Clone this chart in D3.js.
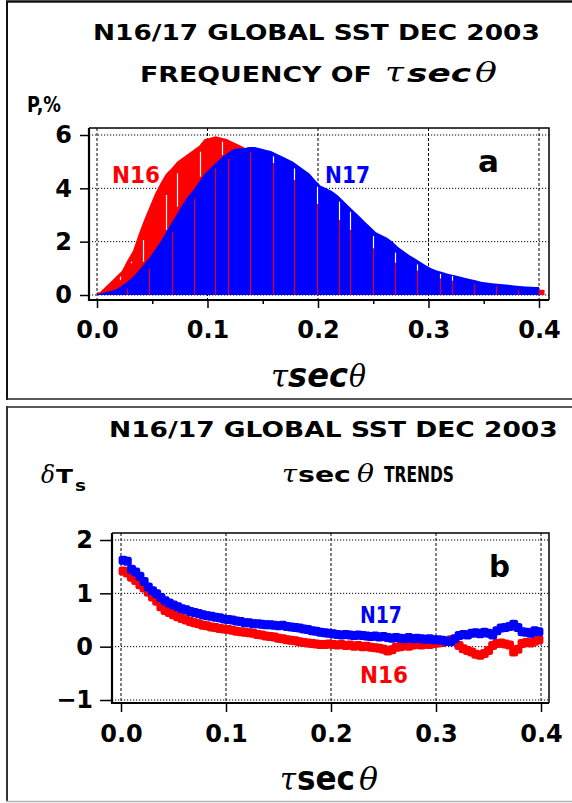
<!DOCTYPE html>
<html>
<head>
<meta charset="utf-8">
<script src="https://cdn.jsdelivr.net/npm/d3@7"></script>
<style>
  body { margin: 0; background: #fff; }
  svg { display: block; }
  text { font-family: "DejaVu Sans", sans-serif; font-weight: bold; }
  .sym { font-family: "DejaVu Serif", serif; font-style: italic; font-weight: normal; }
  .tick text { font-family: "DejaVu Sans", sans-serif; font-weight: bold; font-size: 24px; fill: #000; }
  .tick line { stroke: #000; stroke-width: 1.5; }
</style>
</head>
<body>
<div class="chart"></div>
<script>
// ---- data ----
let xTicks = [0, 0.1, 0.2, 0.3, 0.4];
let xMinorTicks = [0.05, 0.15, 0.25, 0.35];
let histYTicks = [0, 2, 4, 6];
let trendYTicks = [-1, 0, 1, 2];

// frequency histograms, bins of 0.005 starting at 0
let binWidth = 0.005;
let n16Freq = [0.1, 0.3, 0.5, 0.7, 0.9, 1.3, 1.65, 2.25, 2.8, 3.3,
               3.8, 4.2, 4.55, 4.75, 5.0, 5.15, 5.3, 5.45, 5.6, 5.85,
               5.9, 5.95, 5.9, 5.85, 5.75, 5.65, 5.55, 5.4, 5.3, 5.2,
               5.1, 4.95, 4.8, 4.65, 4.5, 4.3, 4.1, 3.9, 3.7, 3.45,
               3.3, 3.15, 3.0, 2.85, 2.7, 2.45, 2.3, 2.1, 1.95, 1.8,
               1.7, 1.55, 1.4, 1.25, 1.15, 1.05, 1.0, 0.92, 0.85, 0.75,
               0.7, 0.64, 0.6, 0.56, 0.53, 0.5, 0.46, 0.42, 0.4, 0.38,
               0.36, 0.35, 0.33, 0.3, 0.26, 0.22, 0.2, 0.2, 0.2, 0.2, 0.2];
let n17Freq = [0.05, 0.1, 0.15, 0.22, 0.35, 0.5, 0.68, 0.9, 1.15, 1.4,
               1.7, 2.0, 2.35, 2.7, 3.05, 3.4, 3.7, 3.95, 4.25, 4.55,
               4.75, 4.95, 5.15, 5.3, 5.45, 5.5, 5.5, 5.55, 5.55, 5.5,
               5.45, 5.4, 5.3, 5.2, 5.1, 5.0, 4.85, 4.7, 4.55, 4.3,
               4.1, 4.0, 3.9, 3.75, 3.55, 3.35, 3.15, 2.95, 2.75, 2.55,
               2.35, 2.25, 2.15, 2.0, 1.8, 1.65, 1.5, 1.38, 1.25, 1.12,
               1.0, 0.92, 0.86, 0.8, 0.75, 0.7, 0.65, 0.6, 0.55, 0.5,
               0.47, 0.44, 0.42, 0.4, 0.38, 0.36, 0.34, 0.32, 0.31, 0.3];

// thin columns where one histogram left a gap in the original raster
let n17GapX     = [0.027, 0.047, 0.0675, 0.0875, 0.107, 0.119, 0.1385, 0.159, 0.178, 0.199,
                   0.219, 0.229, 0.25, 0.27, 0.29, 0.31, 0.321, 0.341, 0.361, 0.381];
let n17GapRed   = [0.25, 1.0, 2.37, 3.62, 4.75, 5.12, 5.37, 4.94, 4.31, 3.41,
                   2.81, 2.44, 1.75, 1.21, 0.91, 0.62, 0.54, 0.41, 0.34, 0.19];
let n17GapWhite = [0.25, 1.0, 2.37, 3.62, 4.75, 5.12, 5.37, 5.2, 4.75, 4.06,
                   3.5, 3.12, 2.21, 1.59, 1.15, 0.79, 0.71, 0.41, 0.34, 0.19];
let n16GapX  = [0.021, 0.031, 0.042, 0.062, 0.072, 0.093, 0.113];
let n16GapLo = [0.56, 1.19, 1.25, 2.44, 3.31, 4.44, 5.25];
let n16GapHi = [0.69, 1.25, 2.06, 3.75, 4.56, 5.37, 5.75];

// trends, sampled every 0.004 starting at 0.002
let trendX = d3.range(100).map(i => 0.002 + i * 0.004);
let n16Trend = [1.42, 1.38, 1.30, 1.24, 1.16, 1.10, 1.02, 0.93, 0.85, 0.75,
                0.68, 0.64, 0.60, 0.56, 0.53, 0.50, 0.47, 0.45, 0.43, 0.40,
                0.39, 0.37, 0.36, 0.34, 0.33, 0.32, 0.31, 0.29, 0.28, 0.27,
                0.26, 0.25, 0.23, 0.22, 0.20, 0.19, 0.18, 0.16, 0.15, 0.13,
                0.12, 0.11, 0.09, 0.08, 0.07, 0.06, 0.05, 0.04, 0.04, 0.05,
                0.04, 0.03, 0.04, 0.02, 0.03, 0.01, 0.02, 0.00, 0.01, -0.01,
                -0.02, -0.03, -0.05, -0.08, -0.06, -0.01, 0.00, 0.02, 0.01, 0.03,
                0.04, 0.03, 0.05, 0.04, 0.06, 0.07, 0.08, 0.10, 0.13, 0.12,
                0.02, -0.04, -0.07, -0.10, -0.14, -0.16, -0.13, -0.07, 0.02, 0.06,
                0.07, 0.05, 0.03, -0.10, -0.05, 0.06, 0.08, 0.07, 0.10, 0.13];
let n17Trend = [1.62, 1.60, 1.45, 1.40, 1.32, 1.22, 1.12, 1.05, 0.99, 0.92,
                0.86, 0.82, 0.78, 0.75, 0.71, 0.69, 0.66, 0.64, 0.62, 0.60,
                0.58, 0.57, 0.55, 0.54, 0.52, 0.51, 0.50, 0.48, 0.47, 0.45,
                0.45, 0.43, 0.43, 0.42, 0.41, 0.41, 0.40, 0.39, 0.40, 0.38,
                0.37, 0.36, 0.35, 0.33, 0.32, 0.30, 0.29, 0.27, 0.26, 0.25,
                0.24, 0.23, 0.22, 0.23, 0.22, 0.21, 0.22, 0.21, 0.20, 0.19,
                0.20, 0.18, 0.19, 0.17, 0.16, 0.17, 0.16, 0.15, 0.17, 0.15,
                0.16, 0.15, 0.14, 0.15, 0.13, 0.13, 0.12, 0.10, 0.09, 0.15,
                0.21, 0.23, 0.22, 0.25, 0.26, 0.24, 0.27, 0.25, 0.22, 0.30,
                0.35, 0.36, 0.38, 0.42, 0.36, 0.28, 0.27, 0.25, 0.30, 0.28];

let RED = "#ff0000", BLUE = "#0000ff";

let svg = d3.select(".chart").append("svg")
    .attr("width", 572).attr("height", 803);

// panel borders
let border = (x1, y1, x2, y2, c, w) => svg.append("line")
    .attr("x1", x1).attr("y1", y1).attr("x2", x2).attr("y2", y2)
    .attr("stroke", c).attr("stroke-width", w);
border(6, 1.5, 572, 1.5, "#111", 2.5);
border(7, 1, 7, 400, "#111", 2);
border(6, 399, 572, 399, "#222", 1.5);
border(6, 407, 572, 407, "#222", 1.5);
border(7, 406, 7, 802, "#333", 2);
border(6, 801.5, 572, 801.5, "#b4b4b4", 1.5);

// text stretched horizontally to the width it has in the picture
let txt = (x, y, s, size, opts = {}) => {
    let t = svg.append("text").style("font-size", size + "px").text(s);
    if (opts.cls) t.attr("class", opts.cls);
    if (opts.fill) t.attr("fill", opts.fill);
    if (opts.italic) t.style("font-style", "italic");
    let k = 1;
    if (opts.len) k = opts.len / t.node().getComputedTextLength();
    t.attr("transform", `translate(${x},${y}) scale(${k},1)`);
    return t;
};

let grid = (g, xs, ys, frame) => {
    g.selectAll(".hgrid").data(ys).enter().append("line")
        .attr("x1", frame.x0).attr("x2", frame.x1)
        .attr("y1", d => d).attr("y2", d => d)
        .attr("stroke", "#000").attr("stroke-width", 1).attr("stroke-dasharray", "1.2,1.8");
    g.selectAll(".vgrid").data(xs).enter().append("line")
        .attr("x1", d => d).attr("x2", d => d)
        .attr("y1", frame.y0).attr("y2", frame.y1)
        .attr("stroke", "#000").attr("stroke-width", 1).attr("stroke-dasharray", "3,2");
};

let frameBox = (g, f) => {
    g.append("path")
        .attr("d", `M${f.x0},${f.y0}H${f.x1}V${f.y1}`)
        .attr("fill", "none").attr("stroke", "#000").attr("stroke-width", 1.5);
    g.append("path")
        .attr("d", `M${f.x0},${f.y0}V${f.y1}H${f.x1}`)
        .attr("fill", "none").attr("stroke", "#000").attr("stroke-width", 2.2);
};

// ================= panel a =================
txt(93, 40, "N16/17 GLOBAL SST DEC 2003", 21, { len: 447 });
txt(140, 82, "FREQUENCY OF", 21, { len: 232 });
txt(385, 82, "\u03c4", 27, { cls: "sym", len: 19 });
txt(407, 82, "sec", 25, { len: 64, italic: true });
txt(475, 82, "\u03b8", 27, { cls: "sym", len: 22 });
txt(27, 112, "P,%", 21, { len: 34 });

let fa = { x0: 89, x1: 549, y0: 128, y1: 300 };
let xA = d3.scaleLinear().domain([0, 0.4]).range([97, 539]);
let yA = d3.scaleLinear().domain([0, 6]).range([295, 135]);
let ga = svg.append("g");

grid(ga, xTicks.map(xA), histYTicks.map(yA), fa);

// outline through bin centres, closed at both bin ends
let histPts = arr => [[0, arr[0]]]
    .concat(arr.map((v, i) => [(i + 0.5) * binWidth, v]))
    .concat([[arr.length * binWidth, arr[arr.length - 1]]]);
let histArea = d3.area().x(d => xA(d[0])).y0(yA(0)).y1(d => yA(d[1]));

ga.append("path").datum(histPts(n16Freq)).attr("d", histArea).attr("fill", RED);
ga.append("path").datum(histPts(n17Freq)).attr("d", histArea).attr("fill", BLUE);

// raster gap columns
n17GapX.forEach((x, i) => {
    let px = Math.round(xA(x)) + 0.5;
    ga.append("line").attr("x1", px).attr("x2", px)
        .attr("y1", yA(0)).attr("y2", yA(n17GapRed[i]))
        .attr("stroke", "#d8001c").attr("stroke-width", 1.2);
    if (n17GapWhite[i] > n17GapRed[i]) {
        ga.append("line").attr("x1", px).attr("x2", px)
            .attr("y1", yA(n17GapRed[i])).attr("y2", yA(n17GapWhite[i]))
            .attr("stroke", "#fff").attr("stroke-width", 1.2);
    }
});
n16GapX.forEach((x, i) => {
    let px = Math.round(xA(x)) + 0.5;
    ga.append("line").attr("x1", px).attr("x2", px)
        .attr("y1", yA(n16GapLo[i])).attr("y2", yA(n16GapHi[i]))
        .attr("stroke", "#fff").attr("stroke-width", 1.2);
});

frameBox(ga, fa);

ga.append("g").attr("transform", `translate(${fa.x0},0)`)
    .call(d3.axisLeft(yA).tickValues(histYTicks).tickFormat(d3.format("d")).tickSize(9).tickPadding(8))
    .call(g => g.select(".domain").remove());
ga.append("g").attr("transform", `translate(0,${fa.y1})`)
    .call(d3.axisBottom(xA).tickValues(xTicks).tickFormat(d3.format(".1f")).tickSize(8).tickPadding(13))
    .call(g => g.select(".domain").remove());
ga.append("g").attr("transform", `translate(0,${fa.y1})`)
    .call(d3.axisBottom(xA).tickValues(xMinorTicks).tickFormat("").tickSize(4))
    .call(g => g.select(".domain").remove());

txt(112, 183, "N16", 23, { len: 48, fill: RED });
txt(325, 183, "N17", 23, { len: 45, fill: BLUE });
txt(478, 172, "a", 30, { len: 21 });

txt(271, 387, "\u03c4", 32, { cls: "sym", len: 17 });
txt(288, 387, "sec", 33, { len: 60, italic: true });
txt(349, 387, "\u03b8", 32, { cls: "sym", len: 17 });

// ================= panel b =================
txt(109, 437, "N16/17 GLOBAL SST DEC 2003", 21, { len: 449 });
txt(282, 482, "\u03c4", 24, { cls: "sym", len: 15 });
txt(298, 482, "sec", 22, { len: 53 });
txt(357, 482, "\u03b8", 25, { cls: "sym", len: 17 });
txt(384, 482, "TRENDS", 21, { len: 70 });
txt(41, 483, "\u03b4", 25, { cls: "sym", len: 14 });
txt(56, 483, "T", 20, { len: 17 });
txt(75, 491, "s", 16, { len: 11 });

let fb = { x0: 112, x1: 549, y0: 533, y1: 703 };
let xB = d3.scaleLinear().domain([0, 0.4]).range([121, 541]);
let yB = d3.scaleLinear().domain([-1, 2]).range([700, 540]);
let gb = svg.append("g");

grid(gb, xTicks.map(xB), trendYTicks.map(yB), fb);

let marker = 9;
let drawTrend = (vals, color) => gb.append("g").selectAll("rect")
    .data(trendX.map((x, i) => [x, vals[i]]))
    .enter().append("rect")
    .attr("x", d => xB(d[0]) - marker / 2)
    .attr("y", d => yB(d[1]) - marker / 2)
    .attr("width", marker).attr("height", marker)
    .attr("rx", 2.5)
    .attr("fill", color);
drawTrend(n16Trend, RED);
drawTrend(n17Trend, BLUE);

frameBox(gb, fb);

gb.append("g").attr("transform", `translate(${fb.x0},0)`)
    .call(d3.axisLeft(yB).tickValues(trendYTicks)
        .tickFormat(d => d < 0 ? "\u2212" + Math.abs(d) : String(d)).tickSize(12).tickPadding(7))
    .call(g => g.select(".domain").remove());
gb.append("g").attr("transform", `translate(0,${fb.y1})`)
    .call(d3.axisBottom(xB).tickValues(xTicks).tickFormat(d3.format(".1f")).tickSize(9).tickPadding(13))
    .call(g => g.select(".domain").remove());

txt(360, 623, "N17", 23, { len: 42, fill: BLUE });
txt(360, 683, "N16", 23, { len: 48, fill: RED });
txt(489, 577, "b", 30, { len: 21 });

txt(280, 790, "\u03c4", 32, { cls: "sym", len: 16 });
txt(297, 790, "sec", 33, { len: 58 });
txt(359, 790, "\u03b8", 32, { cls: "sym", len: 19 });
</script>
</body>
</html>
